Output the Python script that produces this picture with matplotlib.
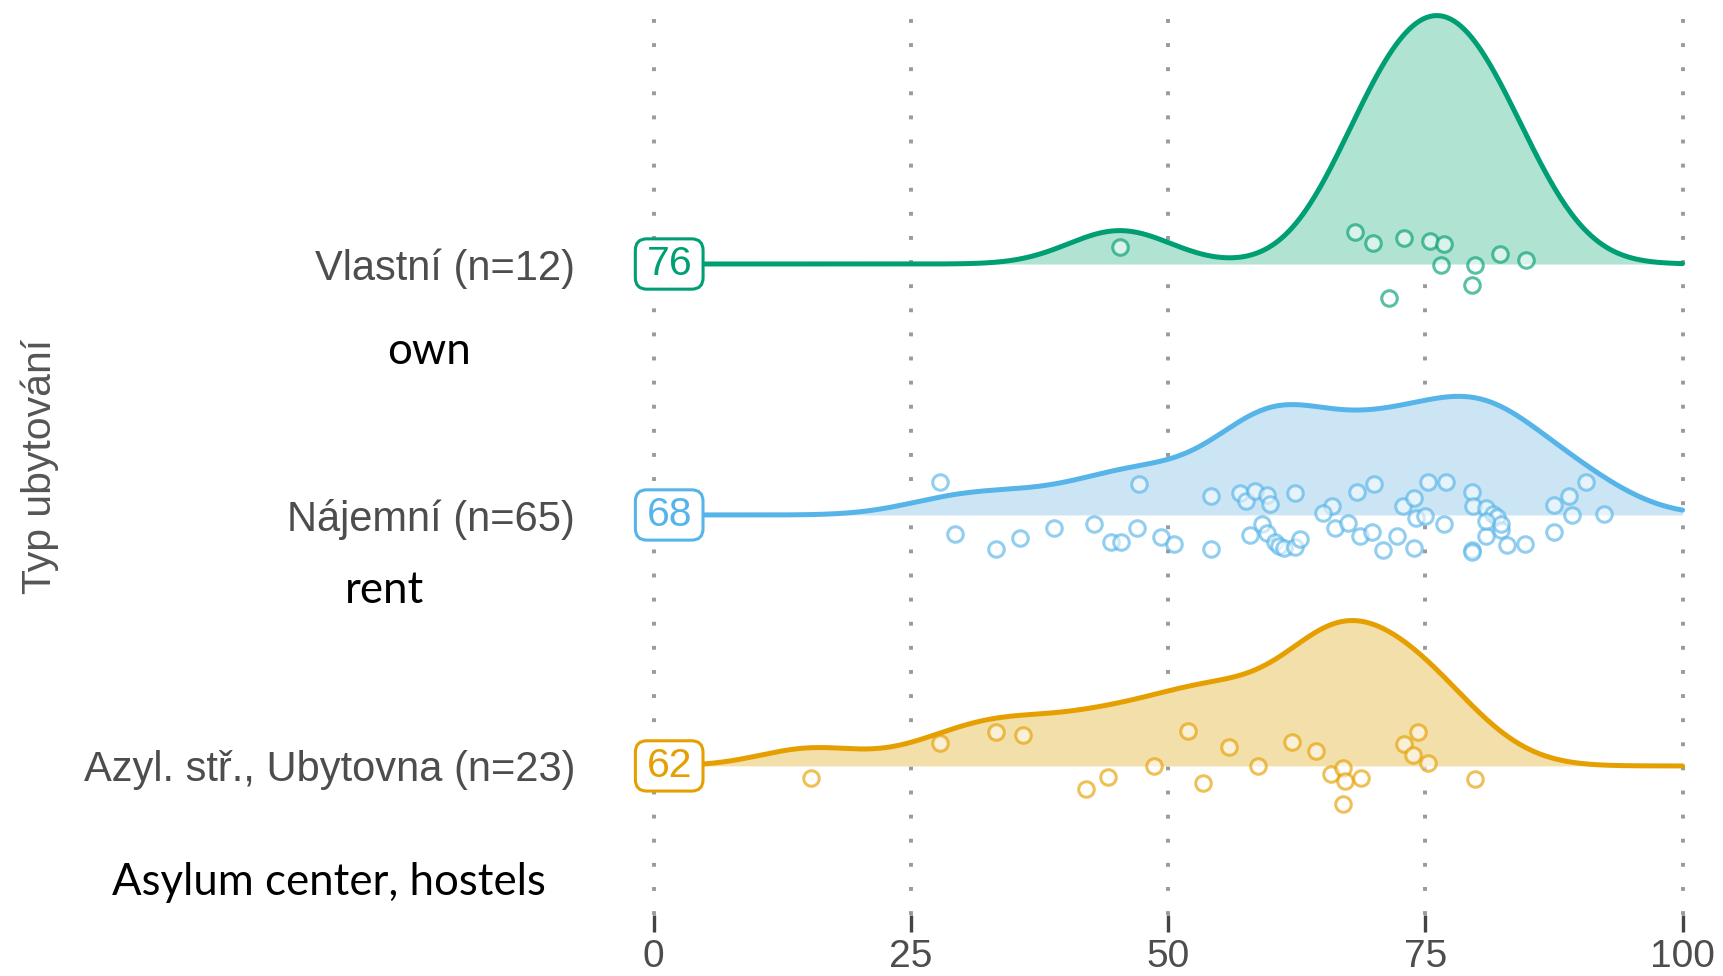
import numpy as np
import matplotlib
matplotlib.use("Agg")
from matplotlib import pyplot as plt
from matplotlib.patches import BoxStyle

# categories (bottom to top)
labels = ["Azyl. stř., Ubytovna (n=23)", "Nájemní (n=65)", "Vlastní (n=12)"]
english = ["Asylum center, hostels", "rent", "own"]
centre_vals = ["62", "68", "76"]
colors = ["#E69F00", "#56B4E9", "#009E73"]
fills = ["#F3DFAA", "#CCE5F5", "#B0E3D2"]

# values and vertical jitter
own_x = [45.3, 68.2, 69.9, 72.9, 75.5, 76.8, 76.5, 79.8, 82.3, 84.8, 79.5, 71.5]
own_j = [0.066, 0.127, 0.083, 0.105, 0.092, 0.079, -0.004, -0.004, 0.039, 0.017, -0.083, -0.135]

rent_x = [27.8, 47.2, 54.2, 57.0, 57.6, 58.4, 59.6, 59.9, 62.3, 65.9, 68.4, 70.0, 72.8,
          73.9, 74.1, 75.3, 77.0, 79.5, 79.6, 80.9, 81.6, 82.0, 87.5, 89.0, 90.6, 92.4,
          29.3, 33.3, 35.6, 38.9, 42.8, 44.4, 45.4, 47.0, 49.3, 50.6, 54.2, 58.0, 59.1,
          59.6, 60.4, 60.8, 61.3, 62.3, 62.8, 65.1, 66.2, 67.5, 68.6, 69.8, 70.9, 72.2,
          73.9, 75.0, 76.8, 79.5, 79.5, 80.9, 82.4, 82.4, 82.9, 84.7, 87.5, 89.3, 80.9]
rent_j = [0.131, 0.122, 0.074, 0.087, 0.057, 0.096, 0.079, 0.044, 0.087, 0.035, 0.092, 0.122, 0.035,
          0.066, -0.013, 0.131, 0.131, 0.092, 0.035, 0.026, 0.004, -0.009, 0.039, 0.074, 0.131, 0.004,
          -0.074, -0.135, -0.092, -0.052, -0.035, -0.109, -0.109, -0.052, -0.087, -0.114, -0.135, -0.079, -0.035,
          -0.070, -0.109, -0.122, -0.131, -0.127, -0.096, 0.009, -0.052, -0.031, -0.083, -0.066, -0.140, -0.083,
          -0.131, -0.004, -0.035, -0.140, -0.148, -0.083, -0.061, -0.035, -0.118, -0.114, -0.066, 0.0, -0.026]

asyl_x = [15.3, 27.8, 33.3, 35.9, 42.0, 44.2, 48.6, 51.9, 53.4, 55.9, 58.7, 62.0,
          64.4, 65.8, 67.0, 67.2, 68.7, 67.0, 72.9, 73.8, 74.3, 75.3, 79.8]
asyl_j = [-0.048, 0.092, 0.135, 0.122, -0.092, -0.044, 0.0, 0.140, -0.070, 0.074, 0.0, 0.096,
          0.061, -0.031, -0.009, -0.061, -0.048, -0.153, 0.087, 0.044, 0.135, 0.013, -0.052]

groups_x = [asyl_x, rent_x, own_x]
groups_j = [asyl_j, rent_j, own_j]

ticks = [0, 25, 50, 75, 100]
BW = 5.0


def kde(vals, grid, bw):
    v = np.asarray(vals)
    z = (grid[:, None] - v[None, :]) / bw
    return np.exp(-0.5 * z ** 2).sum(axis=1) / (len(v) * bw * np.sqrt(2 * np.pi))


class WideRound(BoxStyle.Round):
    # rounded box with extra room left and right
    def __call__(self, x0, y0, width, height, mutation_size):
        ex = 0.12 * mutation_size
        return super().__call__(x0 - ex, y0, width + 2 * ex, height, mutation_size)


grid = np.linspace(0, 100, 600)
dens = [kde(g, grid, BW) for g in groups_x]
scale = 0.99 / max(d.max() for d in dens)

fig = plt.figure(figsize=(17.24, 9.76), dpi=100)
ax = fig.add_axes([0.3643, 0.0625, 0.6206, 0.9375])
ax.set_xlim(-2.5, 101.5)
ax.set_ylim(0.406, 4.052)

for x in ticks:
    ax.axvline(x, color="#9a9a9a", lw=2.8, ls=(0, (1, 5.2)), zorder=0)

for i, (d, c, fc) in enumerate(zip(dens, colors, fills)):
    y0 = i + 1
    ax.fill_between(grid, y0, y0 + d * scale, color=fc, lw=0, zorder=1)
    ax.plot(grid, y0 + d * scale, color=c, lw=3.6, zorder=2, solid_capstyle="round")
    ax.scatter(groups_x[i], y0 + np.asarray(groups_j[i]), s=125, facecolor=(1, 1, 1, 0.55),
               edgecolor=matplotlib.colors.to_rgba(c, 0.65), linewidth=2.2, zorder=3)
    ax.text(1.5, y0, centre_vals[i], ha="center", va="center", fontsize=29.5, color=c,
            family="Liberation Sans", zorder=5,
            bbox=dict(boxstyle=WideRound(pad=0.15, rounding_size=0.28), fc="white", ec=c, lw=2.2))

ax.set_yticks([1, 2, 3])
ax.set_yticklabels(labels, fontsize=30, color="#4d4d4d", family="Liberation Sans")
ax.tick_params(axis="y", length=0, pad=38)
ax.set_xticks(ticks)
ax.set_xticklabels([str(t) for t in ticks], fontsize=28, color="#4d4d4d", family="Liberation Sans")
ax.tick_params(axis="x", length=12, width=2.4, color="#444444", pad=5)
for s in ax.spines.values():
    s.set_visible(False)

fig.text(0.023, 0.522, "Typ ubytování", rotation=90, ha="center", va="center",
         fontsize=29.5, color="#555555", family="Liberation Sans")

eng_pos = [(0.191, 0.096), (0.223, 0.395), (0.249, 0.640)]
for t, (px, py) in zip(english, eng_pos):
    fig.text(px, py, t, ha="center", va="center", fontsize=31.5, color="black", family="Lato")

fig.savefig("out.png", dpi=100)
